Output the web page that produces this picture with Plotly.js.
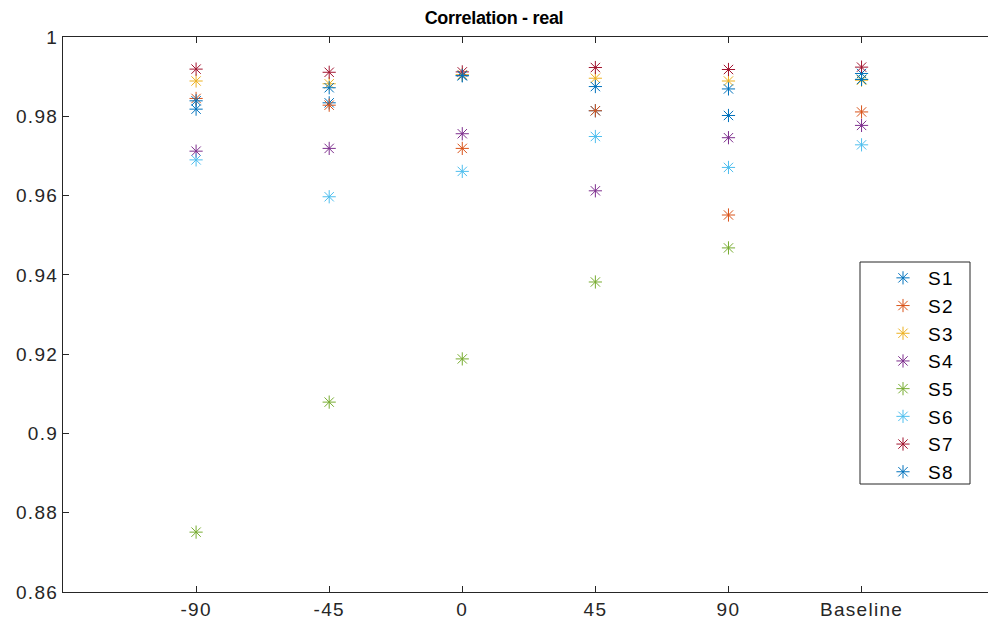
<!DOCTYPE html>
<html>
<head>
<meta charset="utf-8">
<script src="https://cdn.plot.ly/plotly-3.0.1.min.js"></script>
<style>
html,body{margin:0;padding:0;background:#fff;overflow:hidden;}
.xtick text, .ytick text { letter-spacing: 1.3px; }
.legend .legendtext { letter-spacing: 1.3px; }
.gtitle { letter-spacing: -0.3px; }
</style>
</head>
<body>
<div id="chart" style="width:988px;height:637px;"></div>
<script>
var categories = ['-90', '-45', '0', '45', '90', 'Baseline'];
var seriesNames = ['S1', 'S2', 'S3', 'S4', 'S5', 'S6', 'S7', 'S8'];
var S1 = [0.9818, 0.9834, 0.9902, 0.9814, 0.9802, 0.9908];
var S2 = [0.9845, 0.9828, 0.9719, 0.9814, 0.9551, 0.9811];
var S3 = [0.9889, 0.9882, 0.9905, 0.9896, 0.9889, 0.9891];
var S4 = [0.9712, 0.9719, 0.9756, 0.9612, 0.9746, 0.9777];
var S5 = [0.8751, 0.9079, 0.9188, 0.9382, 0.9468, 0.9893];
var S6 = [0.9690, 0.9597, 0.9661, 0.9749, 0.9671, 0.9728];
var S7 = [0.9919, 0.9911, 0.9912, 0.9923, 0.9918, 0.9924];
var S8 = [0.9839, 0.9872, 0.9903, 0.9875, 0.9869, 0.9893];
var yTicks = [0.86, 0.88, 0.9, 0.92, 0.94, 0.96, 0.98, 1];
var yTickText = ['0.86', '0.88', '0.9', '0.92', '0.94', '0.96', '0.98', '1'];

var seriesData = [S1, S2, S3, S4, S5, S6, S7, S8];
var colors = ['#0072BD', '#D95319', '#EDB120', '#7E2F8E', '#77AC30', '#4DBEEE', '#A2142F', '#0072BD'];
var xPos = categories.map(function (c, i) { return i + 1; });

var traces = seriesData.map(function (vals, k) {
  return {
    type: 'scatter',
    mode: 'markers',
    name: seriesNames[k],
    legendgroup: 'g' + k,
    x: xPos,
    y: vals,
    marker: { symbol: 'asterisk-open', size: 11, color: colors[k], line: { color: colors[k], width: 1 } },
    hoverinfo: 'x+y+name'
  };
});

var axisColor = '#262626';
var fontFam = '"Liberation Sans", Arial, Helvetica, sans-serif';

var layout = {
  width: 988,
  height: 637,
  margin: { l: 63, r: 0, t: 37, b: 45, pad: 0 },
  paper_bgcolor: '#ffffff',
  plot_bgcolor: '#ffffff',
  font: { family: fontFam, size: 19, color: axisColor },
  title: {
    text: '<b>Correlation - real</b>',
    font: { family: fontFam, size: 18, color: '#000000' },
    x: 0.5, xanchor: 'center', y: 0.972, yanchor: 'middle'
  },
  showlegend: true,
  legend: {
    x: (878 - 63) / 925, xanchor: 'left', y: (592 - 259) / 555, yanchor: 'top',
    bgcolor: 'rgba(0,0,0,0)', borderwidth: 0,
    font: { family: fontFam, size: 19, color: '#000000' },
    itemwidth: 40,
    tracegroupgap: 0
  },
  shapes: [{
    type: 'rect', xref: 'paper', yref: 'paper', layer: 'above',
    x0: (860 - 63) / 925, x1: (970 - 63) / 925,
    y0: (592 - 484) / 555, y1: (592 - 262) / 555,
    line: { color: '#262626', width: 1 }, fillcolor: 'rgba(0,0,0,0)'
  }],
  xaxis: {
    range: [0, 6.95],
    tickmode: 'array',
    tickvals: xPos,
    ticktext: categories,
    ticks: 'inside', ticklen: 6, tickwidth: 1, tickcolor: axisColor,
    showline: true, linecolor: axisColor, linewidth: 1, mirror: 'ticks',
    showgrid: false, zeroline: false,
    tickfont: { family: fontFam, size: 19, color: axisColor }
  },
  yaxis: {
    range: [0.86, 1],
    tickmode: 'array',
    tickvals: yTicks,
    ticktext: yTickText,
    ticks: 'inside', ticklen: 6, tickwidth: 1, tickcolor: axisColor,
    showline: true, linecolor: axisColor, linewidth: 1, mirror: false,
    showgrid: false, zeroline: false,
    tickfont: { family: fontFam, size: 19, color: axisColor }
  }
};

Plotly.newPlot('chart', traces, layout, { displayModeBar: false, staticPlot: true });
</script>
</body>
</html>
